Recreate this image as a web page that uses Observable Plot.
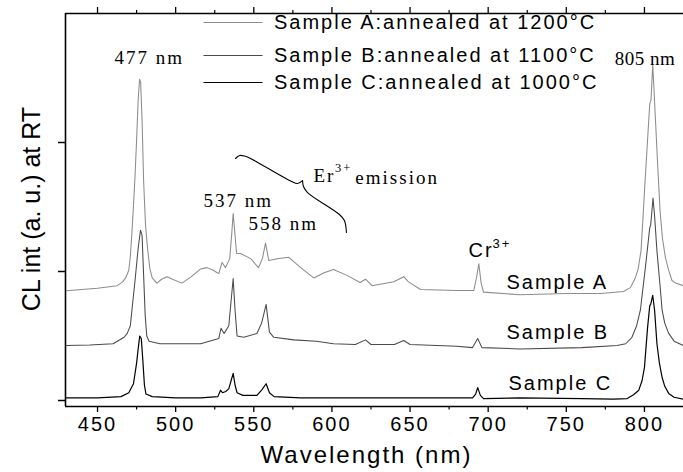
<!DOCTYPE html>
<html>
<head>
<meta charset="utf-8">
<script src="https://cdn.jsdelivr.net/npm/d3@7"></script>
<script src="https://cdn.jsdelivr.net/npm/@observablehq/plot@0.6"></script>
<style>
  body { margin: 0; background: #fff; }
  svg text { letter-spacing: 2px; }
</style>
</head>
<body>
<div id="chart"></div>
<script>
// ---- data: [wavelength nm, CL intensity a.u.] ----
const sampleA = [[430,0.85],[440,0.86],[450,0.87],[462.6,0.89],[466,0.92],[468,0.95],[470,1.01],[471,1.12],[472,1.30],[473,1.51],
 [474,1.74],[475,2.02],[476,2.33],[476.9,2.49],[477.6,2.465],[478.5,2.17],[479.5,1.70],[480.7,1.36],[482,1.18],[483.5,1.02],
 [485,0.95],[488,0.91],[491,0.94],[494.5,0.96],[498,0.94],[504,0.91],[510,0.96],[516,1.02],[520,1.03],[524,1.01],
 [526.6,0.99],[527.6,0.985],[529.7,1.07],[531.9,1.03],[534.6,1.10],[535.8,1.28],[536.8,1.45],[538,1.28],[539,1.14],[541.5,1.14],
 [548,1.10],[553,1.03],[555.5,1.10],[557.5,1.22],[559.6,1.085],[566,1.10],[572.4,1.11],[580,1.03],[588.4,0.95],[595,0.99],
 [601,1.015],[609.7,0.97],[618,0.915],[621.5,0.94],[625.7,0.89],[639.6,0.92],[646,0.96],[649,0.92],[656.7,0.86],[680,0.853],
 [690.8,0.853],[692.5,0.95],[694,1.06],[695.5,0.91],[697,0.84],[720,0.82],[750,0.83],[772,0.83],[786.6,0.845],[791,0.875],
 [794,0.945],[796,1.02],[797.8,1.16],[799,1.40],[800.3,1.68],[802,2.02],[803.4,2.30],[804.2,2.33],[805.3,2.60],[806,2.44],
 [807,2.19],[808.5,1.82],[810,1.47],[811.5,1.26],[813.4,1.11],[815.5,1.01],[817.6,0.93],[820,0.91],[824.7,0.89]];

const sampleB = [[430,0.426],[445,0.43],[460,0.44],[467,0.49],[469,0.52],[471,0.58],[472,0.70],[474,0.93],[476,1.18],[477.5,1.32],
 [478.5,1.28],[479.5,0.97],[480.5,0.66],[481.5,0.50],[483,0.46],[490,0.44],[500,0.44],[516,0.44],[527.6,0.48],[529,0.56],
 [531,0.52],[534,0.58],[535.5,0.775],[536.8,0.945],[538,0.70],[539.3,0.50],[543.6,0.49],[552,0.52],[555,0.60],[557.9,0.745],
 [560,0.53],[562.8,0.49],[575.6,0.47],[590,0.46],[601,0.44],[615,0.434],[621.5,0.47],[625,0.434],[640,0.434],[646,0.465],
 [650,0.434],[680,0.42],[690,0.41],[693.3,0.48],[696,0.41],[720,0.40],[760,0.41],[782.5,0.426],[788,0.44],[792,0.49],
 [795,0.58],[797.4,0.70],[800.6,1.03],[802.5,1.24],[803.4,1.34],[804,1.36],[805.5,1.57],[806.5,1.43],[808,1.16],[810,0.89],
 [811.3,0.70],[813,0.60],[815.5,0.52],[819,0.46],[825,0.426]];

const sampleC = [[430,0.02],[450,0.02],[465,0.03],[470,0.06],[473,0.13],[475,0.29],[476,0.40],[477,0.50],[478,0.48],[479,0.31],
 [480,0.12],[481,0.05],[485,0.03],[500,0.02],[516,0.02],[527,0.03],[528.7,0.08],[530,0.06],[532,0.07],[534,0.09],
 [535.5,0.155],[536.8,0.21],[538,0.12],[539.3,0.06],[543,0.04],[552,0.04],[555,0.08],[557.9,0.13],[560,0.06],[563,0.03],
 [580,0.02],[620,0.02],[650,0.02],[690,0.02],[692,0.05],[693.3,0.10],[695,0.04],[697,0.015],[720,0.02],[760,0.015],
 [780,0.01],[789,0.015],[793,0.045],[796.4,0.08],[798.5,0.155],[800,0.255],[802,0.565],[803.4,0.735],[804,0.745],[805.3,0.815],
 [806.5,0.70],[808,0.44],[809.5,0.295],[811.3,0.18],[813,0.11],[815.5,0.055],[819,0.025],[825,0.01]];

const seriesNames = ["Sample A:annealed at 1200°C", "Sample B:annealed at 1100°C", "Sample C:annealed at 1000°C"];
const sampleLabels = ["Sample A", "Sample B", "Sample C"];
const peakLabels = ["477 nm", "805 nm", "537 nm", "558 nm"];
const xMajorTicks = [450, 500, 550, 600, 650, 700, 750, 800];
const xMinorTicks = [475, 525, 575, 625, 675, 725, 775];
const yTicks = [0, 1, 2];
const yTitle = "CL int (a. u.) at RT";
const xTitle = "Wavelength (nm)";

// ---- layout / style ----
const xDomain = [429.5, 825];
const yDomain = [-0.0465, 3.0];
const colors = ["#8c8c8c", "#4a4a4a", "#000000"];
const serif = "'Liberation Serif', 'Times New Roman', serif";
const sans = "'Liberation Sans', Arial, sans-serif";

const toRows = (arr) => arr.map(([wl, v]) => ({wl, v}));
const series = [sampleA, sampleB, sampleC].map(toRows);

// curly brace for the Er3+ annotation (data coordinates)
const brace = [
  {x: 538.3, y: 1.876, arm: 0}, {x: 540.9, y: 1.899, arm: 0}, {x: 544.1, y: 1.895, arm: 0}, {x: 547.9, y: 1.876, arm: 0},
  {x: 574.1, y: 1.698, arm: 0}, {x: 578.0, y: 1.682, arm: 0}, {x: 581.2, y: 1.705, arm: 0},
  {x: 581.2, y: 1.705, arm: 1}, {x: 581.8, y: 1.659, arm: 1}, {x: 584.4, y: 1.612, arm: 1}, {x: 604.8, y: 1.442, arm: 1},
  {x: 608.0, y: 1.395, arm: 1}, {x: 609.3, y: 1.302, arm: 1}
];

const peakPos = [[460.9, 2.659], [781.0, 2.651], [517.8, 1.550], [546.6, 1.372]];
const peakText = peakLabels.map((t, i) => ({t, x: peakPos[i][0], y: peakPos[i][1]}));
const sampleY = [0.915, 0.527, 0.132];
const sampleX = [711.7, 711.7, 713.0];
const sampleText = sampleLabels.map((t, i) => ({t, x: sampleX[i], y: sampleY[i]}));
const legendY = [2.93, 2.675, 2.465];

const legendMarks = seriesNames.flatMap((name, i) => [
  Plot.link([0], {x1: 517.8, x2: 555.6, y1: legendY[i], y2: legendY[i], stroke: colors[i], strokeWidth: 1.1}),
  Plot.text([name], {x: 562.9, y: legendY[i], text: d => d, textAnchor: "start", fontSize: 20, fontFamily: sans})
]);

const chart = Plot.plot({
  width: 683,
  height: 472,
  marginLeft: 65,
  marginRight: 0,
  marginTop: 13,
  marginBottom: 66,
  x: {domain: xDomain},
  y: {domain: yDomain},
  style: {fontFamily: sans, fontSize: "20px", color: "#000", background: "#fff", overflow: "hidden"},
  marks: [
    // axes ticks
    Plot.axisX({anchor: "bottom", ticks: xMajorTicks, tickSize: 6, tickPadding: 4, tickFormat: d => String(d), label: null, strokeWidth: 1.3, fontSize: 20}),
    Plot.axisX({anchor: "bottom", ticks: xMinorTicks, tickSize: 3.5, tickFormat: () => "", label: null, strokeWidth: 1.2}),
    Plot.axisX({anchor: "top", ticks: xMajorTicks, tickSize: 7, tickFormat: () => "", label: null, strokeWidth: 1.3}),
    Plot.axisX({anchor: "top", ticks: xMinorTicks, tickSize: 4, tickFormat: () => "", label: null, strokeWidth: 1.2}),
    Plot.axisY({anchor: "left", ticks: yTicks, tickSize: 7, tickFormat: () => "", label: null, strokeWidth: 1.5}),
    // frame (left, top, bottom)
    Plot.ruleX([xDomain[0]], {strokeWidth: 1.6}),
    Plot.ruleY([yDomain[0], yDomain[1]], {strokeWidth: 1.6}),
    // spectra
    ...series.map((rows, i) => Plot.line(rows, {x: "wl", y: "v", stroke: colors[i], strokeWidth: i === 2 ? 1.2 : 1.05})),
    // legend
    ...legendMarks,
    // peak labels
    Plot.text(peakText, {x: "x", y: "y", text: "t", textAnchor: "start", fontSize: 19, fontFamily: serif}),
    // Er3+ emission
    Plot.line(brace, {x: "x", y: "y", z: "arm", curve: "catmull-rom", stroke: "#000", strokeWidth: 1.1}),
    Plot.text(["Er"], {x: 588.2, y: 1.744, text: d => d, textAnchor: "start", fontSize: 19, fontFamily: serif}),
    Plot.text(["3+"], {x: 602.0, y: 1.806, text: d => d, textAnchor: "start", fontSize: 12.5, fontFamily: serif}),
    Plot.text(["emission"], {x: 615.0, y: 1.729, text: d => d, textAnchor: "start", fontSize: 19, fontFamily: serif}),
    // Cr3+
    Plot.text(["Cr"], {x: 687.4, y: 1.163, text: d => d, textAnchor: "start", fontSize: 20, fontFamily: sans}),
    Plot.text(["3+"], {x: 702.8, y: 1.217, text: d => d, textAnchor: "start", fontSize: 13, fontFamily: sans}),
    // sample labels
    Plot.text(sampleText, {x: "x", y: "y", text: "t", textAnchor: "start", fontSize: 20, fontFamily: sans}),
    // axis titles
    Plot.text([yTitle], {frameAnchor: "left", dx: -34, dy: -1, rotate: -90, textAnchor: "middle", lineAnchor: "middle", fontSize: 25, fontFamily: sans}),
    Plot.text([xTitle], {frameAnchor: "bottom", dx: -8, dy: 49, textAnchor: "middle", lineAnchor: "middle", fontSize: 24, fontFamily: sans})
  ]
});

// the rotated title is drawn without extra letter spacing; the 805 nm label is kept inside the edge
d3.select(chart).selectAll("text").filter(function () { return this.textContent === yTitle; }).style("letter-spacing", "0px");
d3.select(chart).selectAll("text").filter(function () { return this.textContent === "805 nm"; }).style("letter-spacing", "0.5px");

document.getElementById("chart").appendChild(chart);
</script>
</body>
</html>
